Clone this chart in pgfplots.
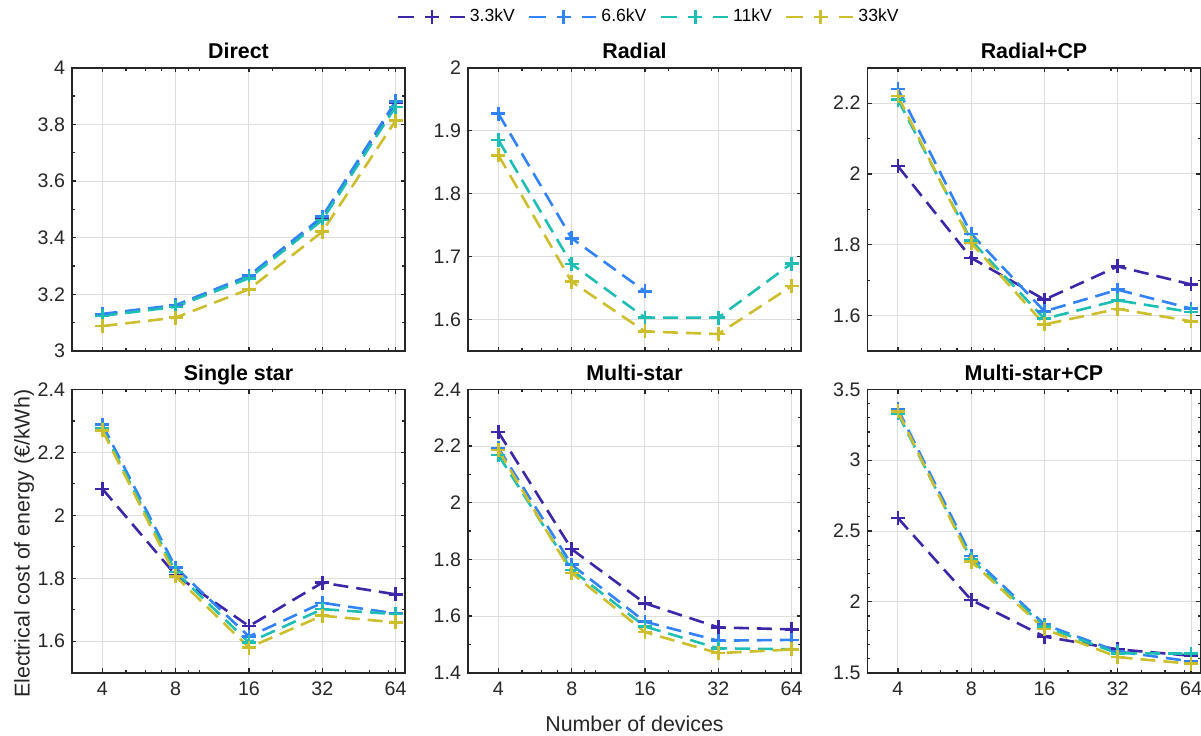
\documentclass[border=0pt]{standalone}
\usepackage{fontspec}
\setmainfont{Liberation Sans}
\usepackage{pgfplots}
\pgfplotsset{compat=1.18}

\definecolor{cA}{RGB}{62,38,168}
\definecolor{cB}{RGB}{50,130,250}
\definecolor{cC}{RGB}{30,190,180}
\definecolor{cD}{RGB}{205,190,45}
\definecolor{axgray}{RGB}{38,38,38}

\tikzset{
  kvline/.style={dash pattern=on 7.5pt off 4pt, line width=1.3pt, mark=+, mark size=3.5pt,
    mark options={solid, line width=1.3pt}},
  kvA/.style={kvline, color=cA},
  kvB/.style={kvline, color=cB},
  kvC/.style={kvline, color=cC},
  kvD/.style={kvline, color=cD},
}

% common settings for the six panels
\pgfplotsset{
  every axis/.append style={
    scale only axis, width=166.5pt, height=141.65pt,
    xmode=log, xmin=3, xmax=70,
    xtick={4,8,16,32,64},
    minor xtick={5,6,7,9,10,20,30,40,50,60},
    grid=major, grid style={black!13, line width=0.5pt},
    axis line style={axgray, line width=0.8pt},
    tick style={axgray, line width=0.6pt},
    major tick length=2.2pt, minor tick length=1.4pt,
    tick align=inside,
    tick label style={font=\fontsize{9.8}{11}\selectfont, text=axgray},
    xticklabel style={anchor=base, yshift=-11.15pt},
    clip=false,
  },
  every axis title/.style={font=\bfseries\fontsize{10.7}{12}\selectfont,
    at={(axis description cs:0.5,1)}, anchor=base, yshift=4.7pt},
  /pgf/number format/assume math mode=true,
  legend image code/.code={
    \draw[#1,solid] (0pt,0pt)--(8.3pt,0pt);
    \draw[#1,solid] (26.3pt,0pt)--(33.5pt,0pt);
    \draw[#1,solid] plot coordinates {(17.3pt,0pt)};
  },
}

\begin{document}
\begin{tikzpicture}
% ---------- top row ----------
\begin{axis}[at={(36pt,-175.5pt)}, title={Direct}, xticklabels={},
  ymin=3, ymax=4, ytick={3,3.2,...,4.01}, minor y tick num=1,
  legend columns=4,
  legend style={at={(axis description cs:1.734,1.179)}, anchor=center, draw=none, fill=none,
    font=\fontsize{8.8}{10}\selectfont, /tikz/every even column/.append style={column sep=4.5pt}},
]
\addplot[kvA] coordinates {(4,3.128) (8,3.160) (16,3.264) (32,3.470) (64,3.875)};
\addplot[kvB] coordinates {(4,3.131) (8,3.162) (16,3.266) (32,3.474) (64,3.881)};
\addplot[kvC] coordinates {(4,3.124) (8,3.156) (16,3.257) (32,3.462) (64,3.862)};
\addplot[kvD] coordinates {(4,3.088) (8,3.118) (16,3.218) (32,3.421) (64,3.813)};
\legend{3.3kV,6.6kV,11kV,33kV}
\end{axis}

\begin{axis}[at={(234pt,-175.5pt)}, title={Radial}, xticklabels={},
  ymin=1.55, ymax=2, ytick={1.6,1.7,1.8,1.9,2}]
\addplot[kvB] coordinates {(4,1.927) (8,1.729) (16,1.645)};
\addplot[kvC] coordinates {(4,1.885) (8,1.688) (16,1.603) (32,1.603) (64,1.689)};
\addplot[kvD] coordinates {(4,1.861) (8,1.660) (16,1.581) (32,1.577) (64,1.653)};
\end{axis}

\begin{axis}[at={(433.75pt,-175.5pt)}, title={Radial+CP}, xticklabels={},
  ymin=1.5, ymax=2.3, ytick={1.6,1.8,2,2.2}, minor y tick num=1]
\addplot[kvA] coordinates {(4,2.022) (8,1.763) (16,1.645) (32,1.739) (64,1.688)};
\addplot[kvB] coordinates {(4,2.240) (8,1.831) (16,1.612) (32,1.673) (64,1.620)};
\addplot[kvC] coordinates {(4,2.210) (8,1.812) (16,1.591) (32,1.643) (64,1.610)};
\addplot[kvD] coordinates {(4,2.220) (8,1.805) (16,1.575) (32,1.619) (64,1.584)};
\end{axis}

% ---------- bottom row ----------
\begin{axis}[at={(36pt,-336.35pt)}, title={Single star}, xticklabels={4,8,16,32,64},
  ymin=1.5, ymax=2.4, ytick={1.6,1.8,2,2.2,2.4}, minor y tick num=1,
  ylabel={Electrical cost of energy (€/kWh)},
  ylabel style={at={(axis description cs:-0.144,0.455)}, anchor=center, font=\fontsize{10.7}{12}\selectfont, text=axgray}]
\addplot[kvA] coordinates {(4,2.084) (8,1.810) (16,1.648) (32,1.786) (64,1.749)};
\addplot[kvB] coordinates {(4,2.288) (8,1.834) (16,1.615) (32,1.722) (64,1.688)};
\addplot[kvC] coordinates {(4,2.275) (8,1.820) (16,1.596) (32,1.702) (64,1.686)};
\addplot[kvD] coordinates {(4,2.270) (8,1.806) (16,1.580) (32,1.681) (64,1.660)};
\end{axis}

\begin{axis}[at={(234pt,-336.35pt)}, title={Multi-star}, xticklabels={4,8,16,32,64},
  ymin=1.4, ymax=2.4, ytick={1.4,1.6,...,2.41}, minor y tick num=1,
  xlabel={Number of devices},
  xlabel style={at={(axis description cs:0.5,0)}, anchor=base, yshift=-29.2pt, font=\fontsize{10.7}{12}\selectfont, text=axgray}]
\addplot[kvA] coordinates {(4,2.249) (8,1.836) (16,1.645) (32,1.560) (64,1.553)};
\addplot[kvB] coordinates {(4,2.193) (8,1.781) (16,1.580) (32,1.513) (64,1.516)};
\addplot[kvC] coordinates {(4,2.168) (8,1.763) (16,1.563) (32,1.486) (64,1.483)};
\addplot[kvD] coordinates {(4,2.186) (8,1.752) (16,1.543) (32,1.469) (64,1.482)};
\end{axis}

\begin{axis}[at={(433.75pt,-336.35pt)}, title={Multi-star+CP}, xticklabels={4,8,16,32,64},
  ymin=1.5, ymax=3.5, ytick={1.5,2,2.5,3,3.5}, minor y tick num=4]
\addplot[kvA] coordinates {(4,2.592) (8,2.014) (16,1.755) (32,1.665) (64,1.620)};
\addplot[kvB] coordinates {(4,3.360) (8,2.325) (16,1.840) (32,1.650) (64,1.580)};
\addplot[kvC] coordinates {(4,3.330) (8,2.300) (16,1.825) (32,1.637) (64,1.635)};
\addplot[kvD] coordinates {(4,3.345) (8,2.285) (16,1.808) (32,1.610) (64,1.563)};
\end{axis}

\pgfresetboundingbox
\path[use as bounding box] (0pt,0pt) rectangle (600.5pt,-367.5pt);
\end{tikzpicture}
\end{document}
